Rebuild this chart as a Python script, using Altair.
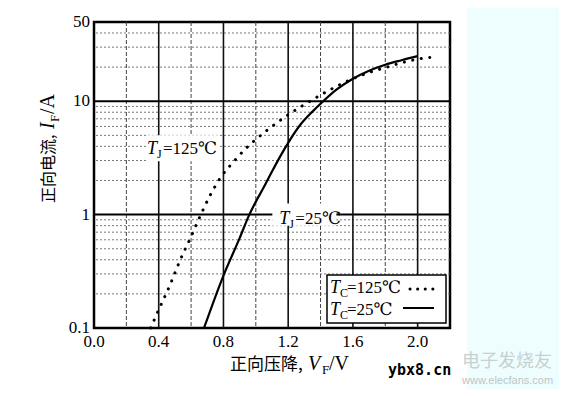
import altair as alt
import pandas as pd

# ---------------- data ----------------
v_tc25 = [0.68, 0.80, 0.90, 0.96, 1.00, 1.05, 1.10, 1.15, 1.20, 1.275, 1.35, 1.40, 1.50, 1.60, 1.70, 1.80, 1.90, 2.00]
i_tc25 = [0.10, 0.29, 0.62, 1.00, 1.30, 1.75, 2.40, 3.25, 4.30, 6.20, 8.10, 9.50, 12.7, 15.8, 18.6, 21.0, 23.0, 25.0]

v_tc125 = [0.35, 0.40, 0.47, 0.53, 0.60, 0.66, 0.72, 0.78, 0.86, 0.94, 1.00, 1.07, 1.13, 1.20,
           1.27, 1.35, 1.43, 1.52, 1.60, 1.70, 1.80, 1.90, 2.00, 2.08]
i_tc125 = [0.10, 0.145, 0.24, 0.39, 0.64, 1.00, 1.50, 2.10, 2.90, 3.85, 4.60, 5.55, 6.45, 7.60,
           8.80, 10.3, 12.0, 14.0, 15.8, 17.9, 19.8, 21.8, 23.5, 24.4]

x_tick_values = [0.0, 0.4, 0.8, 1.2, 1.6, 2.0]
x_tick_labels = ["0.0", "0.4", "0.8", "1.2", "1.6", "2.0"]
y_tick_values = [0.1, 1, 10, 50]
y_tick_labels = ["0.1", "1", "10", "50"]
x_major_lines = [0.4, 0.8, 1.2, 1.6, 2.0]
x_minor_lines = [0.2, 0.6, 1.0, 1.4, 1.8]
y_major_lines = [1, 10]
y_minor_lines = [0.2, 0.3, 0.4, 0.5, 0.6, 0.7, 0.8, 0.9, 2, 3, 4, 5, 6, 7, 8, 9, 20, 30, 40]
x_domain = [0.0, 2.2]
y_domain = [0.1, 50]

note_125 = {"v": [0.55], "i": [3.85]}
note_25 = {"v": [1.30], "i": [1.0]}

SERIF = "Liberation Serif, DejaVu Serif"
CJK = "Noto Sans CJK SC"

xs = alt.Scale(domain=x_domain, nice=False, zero=False)
ys = alt.Scale(type="log", domain=y_domain, nice=False)

one = pd.DataFrame({"a": [0]})


def piece(text, x, y, size, font=SERIF, italic=False, angle=0, dx=0, dy=0,
          color="black", weight="normal"):
    return alt.Chart(one).mark_text(
        text=text, font=font, fontSize=size, fontStyle="italic" if italic else "normal",
        align="left", baseline="alphabetic", angle=angle, dx=dx, dy=dy,
        color=color, fontWeight=weight,
    ).encode(x=alt.value(x), y=alt.value(y))


def note_piece(src, text, size, dx, dy, italic=False):
    return alt.Chart(pd.DataFrame(src)).mark_text(
        text=text, font=SERIF, fontSize=size, fontStyle="italic" if italic else "normal",
        align="left", baseline="alphabetic", dx=dx, dy=dy, color="black",
    ).encode(x=alt.X("v:Q", scale=xs, axis=None), y=alt.Y("i:Q", scale=ys, axis=None))


def box(src, w, h):
    hr = h / w
    path = f"M-1,-{hr:.3f}H1V{hr:.3f}H-1Z"
    return alt.Chart(pd.DataFrame(src)).mark_point(
        shape=path, size=w * w, filled=True, fill="white", strokeWidth=0, opacity=1
    ).encode(x=alt.X("v:Q", scale=xs, axis=None), y=alt.Y("i:Q", scale=ys, axis=None))


# background cyan strip on the right (outside the plot)
cyan = alt.Chart(one).mark_rect(fill="#eefefe").encode(
    x=alt.value(373), x2=alt.value(470), y=alt.value(-20), y2=alt.value(372))

# grid lines
h_minor = alt.Chart(pd.DataFrame({"i": y_minor_lines})).mark_rule(
    color="#6a6a6a", strokeWidth=0.9, strokeDash=[2, 2]).encode(
    y=alt.Y("i:Q", scale=ys, axis=None))
v_minor = alt.Chart(pd.DataFrame({"v": x_minor_lines})).mark_rule(
    color="#444444", strokeWidth=1, strokeDash=[4, 2]).encode(
    x=alt.X("v:Q", scale=xs, axis=None))
h_major = alt.Chart(pd.DataFrame({"i": y_major_lines})).mark_rule(
    color="black", strokeWidth=2).encode(y=alt.Y("i:Q", scale=ys, axis=None))
v_major = alt.Chart(pd.DataFrame({"v": x_major_lines})).mark_rule(
    color="#111111", strokeWidth=1.6).encode(x=alt.X("v:Q", scale=xs, axis=None))

# tick labels (through the scales)
x_labels = alt.Chart(pd.DataFrame({"v": x_tick_values, "t": x_tick_labels})).mark_text(
    font=SERIF, fontSize=17, color="black", align="center", baseline="alphabetic").encode(
    x=alt.X("v:Q", scale=xs, axis=None), y=alt.value(325), text="t:N")
y_labels = alt.Chart(pd.DataFrame({"i": y_tick_values, "t": y_tick_labels})).mark_text(
    font=SERIF, fontSize=17, color="black", align="right", baseline="middle").encode(
    y=alt.Y("i:Q", scale=ys, axis=None), x=alt.value(-4), text="t:N")

# curves
solid = alt.Chart(pd.DataFrame({"v": v_tc25, "i": i_tc25})).mark_line(
    color="black", strokeWidth=2.2, interpolate="monotone").encode(
    x=alt.X("v:Q", scale=xs, axis=None), y=alt.Y("i:Q", scale=ys, axis=None))
dotted = alt.Chart(pd.DataFrame({"v": v_tc125, "i": i_tc125})).mark_line(
    color="black", strokeWidth=3, strokeDash=[0.1, 8.5], strokeCap="round",
    interpolate="monotone").encode(
    x=alt.X("v:Q", scale=xs, axis=None), y=alt.Y("i:Q", scale=ys, axis=None))

# annotations on the plot
notes = [
    box(note_125, 74, 26),
    note_piece(note_125, "T", 18, -36, 6, italic=True),
    note_piece(note_125, "J", 12, -26, 10),
    note_piece(note_125, "=125℃", 17, -20, 6),
    box(note_25, 64, 22),
    note_piece(note_25, "T", 18, -25, 9, italic=True),
    note_piece(note_25, "J", 12, -15, 13),
    note_piece(note_25, "=25℃", 17, -9, 9),
]

# legend box
legend = [
    alt.Chart(one).mark_rect(fill="white", stroke="black", strokeWidth=1.5).encode(
        x=alt.value(233), x2=alt.value(352), y=alt.value(253), y2=alt.value(301)),
    piece("T", 236, 271, 18, italic=True),
    piece("C", 246, 275, 12),
    piece("=125℃", 253, 271, 17),
    piece("T", 236, 293, 18, italic=True),
    piece("C", 246, 297, 12),
    piece("=25℃", 253, 293, 17),
    alt.Chart(one).mark_rule(color="black", strokeWidth=3, strokeDash=[0.1, 7.5],
                             strokeCap="round").encode(
        x=alt.value(316), x2=alt.value(340), y=alt.value(267)),
    alt.Chart(one).mark_rule(color="black", strokeWidth=2).encode(
        x=alt.value(309), x2=alt.value(340), y=alt.value(286)),
]

# axis titles (with subscripts)
titles = [
    piece("正向压降,", 136, 348, 17, font=CJK),
    piece("V", 136, 348, 20, italic=True, dx=78),
    piece("F", 136, 348, 13, dx=92, dy=4),
    piece("/V", 136, 348, 20, dx=99),
    piece("正向电流,", -40, 181, 16, font=CJK, angle=270),
    piece("I", -40, 181, 20, italic=True, angle=270, dx=74),
    piece("F", -40, 181, 13, angle=270, dx=81, dy=5),
    piece("/A", -40, 181, 20, angle=270, dx=89),
]

# watermark
watermark = [
    piece("ybx8.cn", 294, 353, 15, font="DejaVu Sans Mono", weight="bold"),
    piece("电子发烧友", 368, 345, 18, font=CJK, color="#c8d0d0"),
    piece("www.elecfans.com", 368, 362, 11, font="Liberation Sans", color="#bcc6c6"),
]

chart = alt.layer(
    cyan, h_minor, v_minor, h_major, v_major, *notes, solid, dotted,
    x_labels, y_labels, *legend, *titles, *watermark
).properties(
    width=356, height=306,
    autosize=alt.AutoSizeParams(type="none"),
    padding={"left": 86, "top": 14, "right": 109, "bottom": 61},
    background="white",
).configure_view(
    stroke="black", strokeWidth=2.5
)

chart.save("out.html", embed_options={"renderer": "svg", "actions": False})
